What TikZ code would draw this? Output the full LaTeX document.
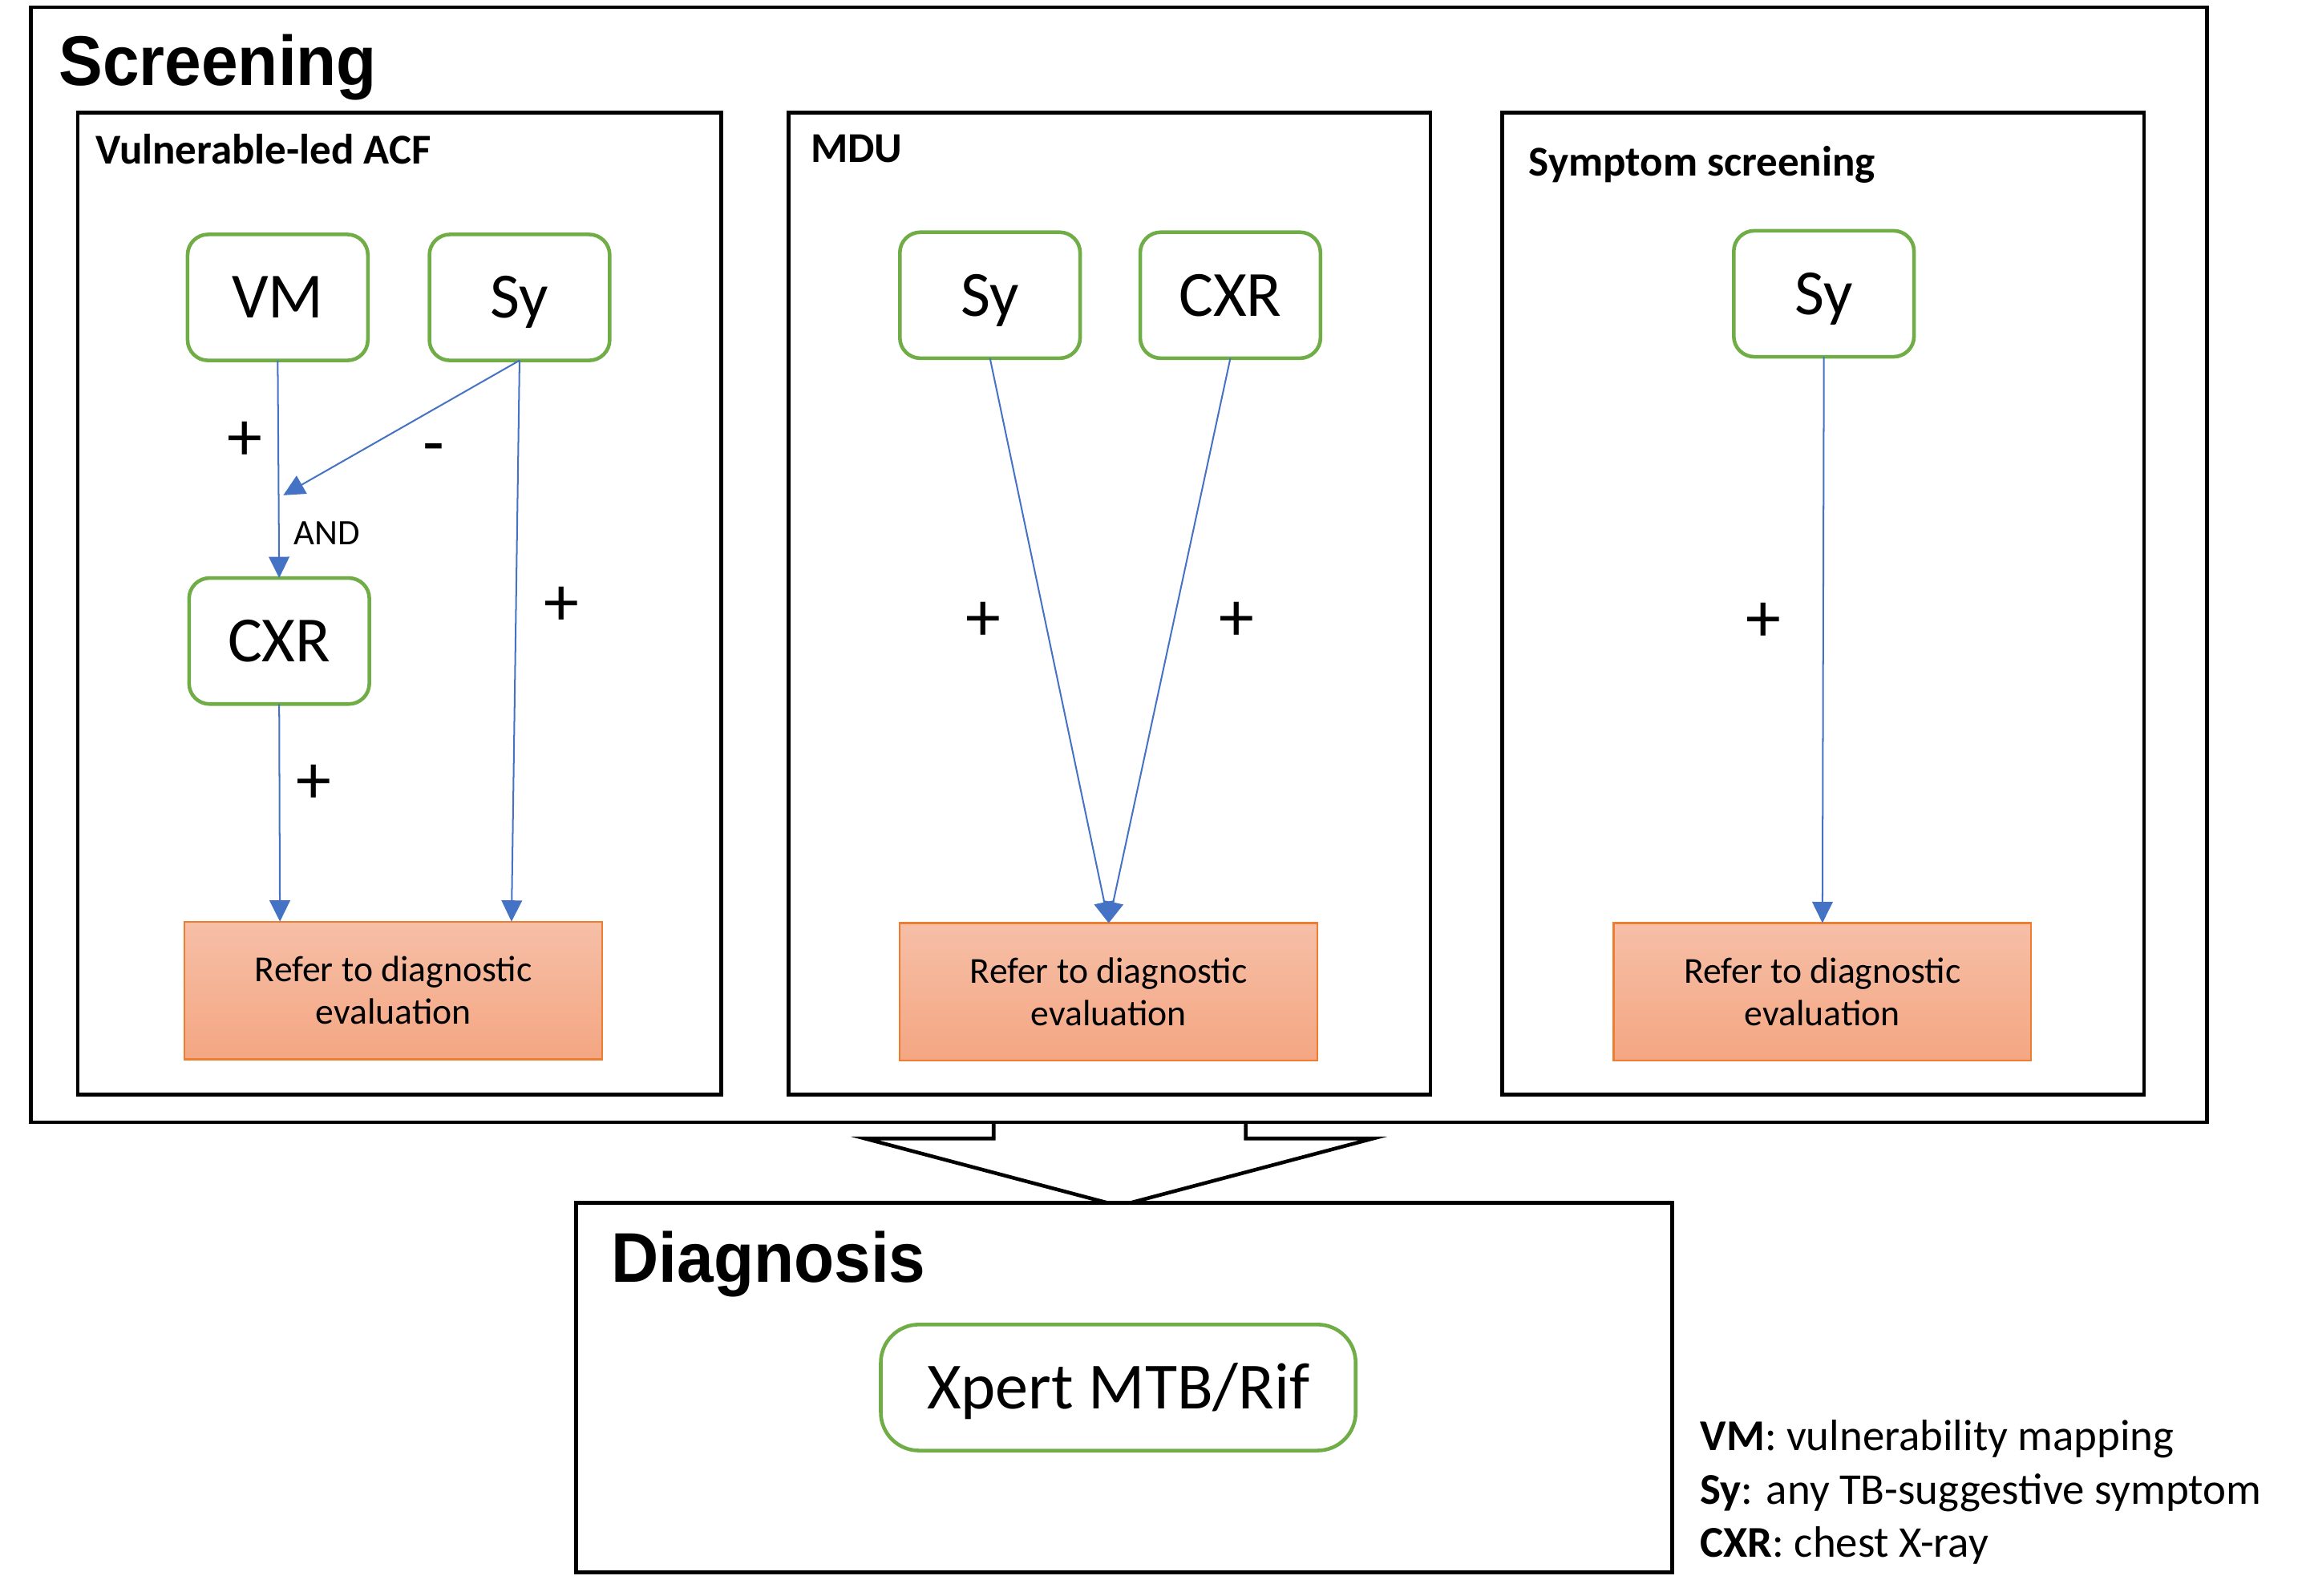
\documentclass[tikz,border=0pt]{standalone}
\usepackage{fontspec}
\setmainfont{Carlito}
\newfontfamily\headfont{Liberation Sans}
\usetikzlibrary{arrows.meta,calc}
\definecolor{gbox}{HTML}{70AD47}
\definecolor{barrow}{HTML}{4472C4}
\definecolor{obord}{HTML}{ED7D31}
\definecolor{otop}{HTML}{F6BFA7}
\definecolor{obot}{HTML}{F4A682}
\newcommand{\fsz}[2]{\fontsize{#1}{#2}\selectfont}
\begin{document}
\begin{tikzpicture}[x=1pt,y=-1pt,
  panel/.style={draw=black, line width=2.5pt, inner sep=0pt, outer sep=0pt},
  gnode/.style={draw=gbox, line width=2.5pt, rounded corners=14pt, minimum width=123pt, minimum height=86pt, inner sep=0pt, outer sep=0pt, text height=28.3pt, text depth=0pt, font=\fsz{44}{53}},
  refer/.style={draw=obord, line width=1.2pt, top color=otop, bottom color=obot, minimum width=285pt, minimum height=94pt, align=center, font=\fsz{25}{29}, inner sep=0pt, outer sep=0pt},
  arr/.style={draw=barrow, line width=1.1pt, -{Triangle[length=14.5pt,width=14pt]}},
  sign/.style={font=\fsz{48}{58}, inner sep=0pt},
  ptitle/.style={anchor=base west, inner sep=0pt, font=\fsz{29}{35}\bfseries},
  bigtitle/.style={anchor=base west, inner sep=0pt, font=\headfont\bfseries\fsz{48}{58}},
  legendline/.style={anchor=base west, inner sep=0pt, font=\fsz{30}{36.5}}
]
\useasboundingbox (0,0) rectangle (1568,1089);

% block arrow between stages
\draw[line width=2.5pt, fill=white, line join=miter]
  (678,766) -- (678,777) -- (590,777) -- (763.5,823) -- (937,777) -- (850,777) -- (850,766);

% frames
\node[panel, minimum width=1485pt, minimum height=761pt] (scr) at (763.5,385.5) {};
\node[panel, minimum width=439pt, minimum height=670pt] (p1) at (272.5,412) {};
\node[panel, minimum width=438pt, minimum height=670pt] (p2) at (757,412) {};
\node[panel, minimum width=438pt, minimum height=670pt] (p3) at (1244,412) {};
\node[panel, fill=white, minimum width=748pt, minimum height=252pt] (diag) at (767,947) {};

% titles
\node[bigtitle] (tscr) at (40,58) {\scalebox{0.935}[1]{Screening}};
\node[bigtitle] (tdiag) at (417,875) {\scalebox{0.935}[1]{Diagnosis}};
\node[ptitle] (t1) at (65,112) {Vulnerable-led ACF};
\node[ptitle] (t2) at (553,111) {MDU};
\node[ptitle] (t3) at (1043,120) {Symptom screening};

% panel 1
\node[gnode] (vm) at (189.5,203) {VM};
\node[gnode] (sy1) at (354.5,203) {Sy};
\node[gnode] (cxr1) at (190.5,437.5) {CXR};
\node[refer] (r1) at (268.5,676) {Refer to diagnostic\\evaluation};
\coordinate (andpt) at (193.3,338);
\draw[arr] (vm.south) -- (cxr1.north);
\draw[arr] (sy1.south) -- (andpt);
\draw[arr] (sy1.south) -- ([xshift=80.5pt]r1.north);
\draw[arr] (cxr1.south) -- ([xshift=-77.5pt]r1.north);
\node[sign] (s1) at (167,301) {+};
\node[sign, anchor=base] (s2) at (296,318) {-};
\node[inner sep=0pt, font=\fsz{24.5}{29}] (andl) at (223,364) {AND};
\node[sign] (s3) at (383,414) {+};
\node[sign] (s4) at (214,535) {+};

% panel 2
\node[gnode] (sy2) at (675.5,201.5) {Sy};
\node[gnode] (cxr2) at (839.5,201.5) {CXR};
\node[refer] (r2) at (756.5,677) {Refer to diagnostic\\evaluation};
\draw[arr] (sy2.south) -- (r2.north);
\draw[arr] (cxr2.south) -- (r2.north);
\node[sign] (s5) at (671,424) {+};
\node[sign] (s6) at (844,424) {+};

% panel 3
\node[gnode] (sy3) at (1244.5,200.5) {Sy};
\node[refer] (r3) at (1243.5,677) {Refer to diagnostic\\evaluation};
\draw[arr] (sy3.south) -- (r3.north);
\node[sign] (s7) at (1203,425) {+};

% diagnosis
\node[draw=gbox, line width=2.5pt, rounded corners=26pt, minimum width=324pt, minimum height=86pt, inner sep=0pt, text height=29pt, text depth=0pt, font=\fsz{45}{54}] (xpert) at (763,947) {Xpert MTB/Rif};

% legend
\node[legendline] (l1) at (1160,990) {\textbf{VM}: vulnerability mapping};
\node[legendline] (l2) at (1160,1026.5) {\textbf{Sy}: any TB-suggestive symptom};
\node[legendline] (l3) at (1160,1063) {\textbf{CXR}: chest X-ray};
\end{tikzpicture}
\end{document}
